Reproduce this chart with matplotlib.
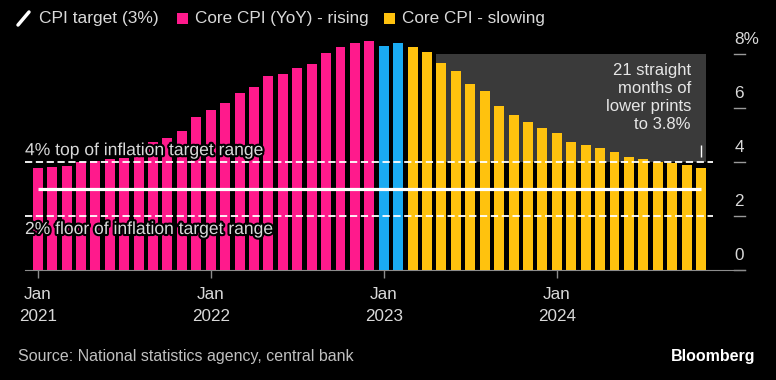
import numpy as np
import matplotlib
matplotlib.use('Agg')
import matplotlib.pyplot as plt
import matplotlib.patheffects as pe
import matplotlib.transforms as mtransforms
from matplotlib.lines import Line2D
from matplotlib.patches import Rectangle

plt.rcParams['font.family'] = ['Liberation Sans', 'DejaVu Sans']

# core CPI (YoY, %), monthly Jan 2021 - Nov 2024
rising = [3.77, 3.83, 3.85, 3.99, 4.05, 4.10, 4.16, 4.20, 4.73, 4.88, 5.14, 5.65,
          5.93, 6.20, 6.57, 6.77, 7.19, 7.26, 7.47, 7.63, 8.02, 8.25, 8.40, 8.49]
peak = [8.31, 8.42]
slowing = [8.27, 8.06, 7.65, 7.37, 6.88, 6.63, 6.06, 5.74, 5.47, 5.27, 5.07,
           4.74, 4.62, 4.52, 4.36, 4.20, 4.11, 4.01, 3.98, 3.88, 3.78]
target = 3.0
band_low, band_high = 2.0, 4.0

xtick_pos = [0, 12, 24, 36]
xtick_labels = ['Jan\n2021', 'Jan\n2022', 'Jan\n2023', 'Jan\n2024']
ytick_vals = [0, 2, 4, 6, 8]
ytick_labels = ['0', '2', '4', '6', '8%']

pink = '#ff1a8c'
blue = '#1aabf2'
yellow = '#ffc20e'
txt = '#d9d9d9'

values = rising + peak + slowing
colors = [pink] * len(rising) + [blue] * len(peak) + [yellow] * len(slowing)
x = np.arange(len(values))

W, H = 776, 380
fig = plt.figure(figsize=(W / 100, H / 100), dpi=100, facecolor='black')
ax = fig.add_axes([25 / W, 110 / H, 720 / W, 235 / H])
ax.set_facecolor('black')
ax.set_xlim(-0.88, 49.05)
ax.set_ylim(0, 235 / 27)

# shaded box behind the slowing run
first_slow = len(rising) + len(peak)
ax.add_patch(Rectangle((first_slow + 1.6, 4), x[-1] + 0.35 - first_slow - 1.6, 4,
                       color='#3a3a3a', lw=0, zorder=1))

ax.bar(x, values, width=0.69, color=colors, lw=0, zorder=3)

# target range and target
for v in (band_low, band_high):
    ax.hlines(v, -0.88, x[-1] + 0.85, colors='white', linestyles=(0, (4, 2)), lw=1.3, zorder=4)
ax.hlines(target, x[0], x[-1], colors='white', lw=2.3, zorder=5)

stroke = [pe.withStroke(linewidth=3, foreground='black')]
ax.text(-0.88, band_high + 0.42, '4% top of inflation target range', color=txt,
        fontsize=12.6, va='center', ha='left', zorder=6, path_effects=stroke)
ax.text(-0.88, band_low - 0.5, '2% floor of inflation target range', color=txt,
        fontsize=12.6, va='center', ha='left', zorder=6, path_effects=stroke)

ax.text(x[-1] - 0.7, 7.68, '21 straight\nmonths of\nlower prints\nto 3.8%', color='#e6e6e6',
        fontsize=12, ha='right', va='top', linespacing=1.27, zorder=6)
ax.vlines(x[-1], 4.2, 4.63, colors='white', lw=1, zorder=6)

# right-hand value axis
trans = mtransforms.blended_transform_factory(ax.transAxes, ax.transData)
for v, lab in zip(ytick_vals, ytick_labels):
    ax.plot([0.985, 1.0], [v, v], transform=trans, color='#9a9a9a', lw=1, clip_on=False)
    ax.text(0.985, v + 0.52, lab, transform=trans, color=txt, fontsize=12.3,
            ha='left', va='center')

ax.set_yticks([])
ax.set_xticks(xtick_pos)
ax.set_xticklabels(xtick_labels, linespacing=1.6)
ax.tick_params(axis='x', colors='#8c8c8c', length=6, width=1, labelcolor=txt,
               labelsize=12.3, pad=6)
for s in ['top', 'left', 'right']:
    ax.spines[s].set_visible(False)
ax.spines['bottom'].set_color('#8c8c8c')

# legend
fig.add_artist(Line2D([18 / W, 29 / W], [1 - 25 / H, 1 - 12 / H], transform=fig.transFigure,
                      color='white', lw=2.5, solid_capstyle='round'))
fig.text(39 / W, 1 - 18 / H, 'CPI target (3%)', color=txt, fontsize=12.5, va='center')
fig.add_artist(Rectangle((177 / W, 1 - 24 / H), 11 / W, 11 / H, transform=fig.transFigure,
                         color=pink, lw=0))
fig.text(195 / W, 1 - 18 / H, 'Core CPI (YoY) - rising', color=txt, fontsize=12.3, va='center')
fig.add_artist(Rectangle((384 / W, 1 - 24 / H), 11 / W, 11 / H, transform=fig.transFigure,
                         color=yellow, lw=0))
fig.text(402 / W, 1 - 18 / H, 'Core CPI - slowing', color=txt, fontsize=12.3, va='center')

fig.text(18 / W, 1 - 357 / H, 'Source: National statistics agency, central bank',
         color='#c0c0c0', fontsize=11.5, va='center')
fig.text(755 / W, 1 - 357 / H, 'Bloomberg', color='white', fontsize=11.5,
         fontweight='bold', ha='right', va='center')

fig.savefig('out.png', dpi=100, facecolor='black')
